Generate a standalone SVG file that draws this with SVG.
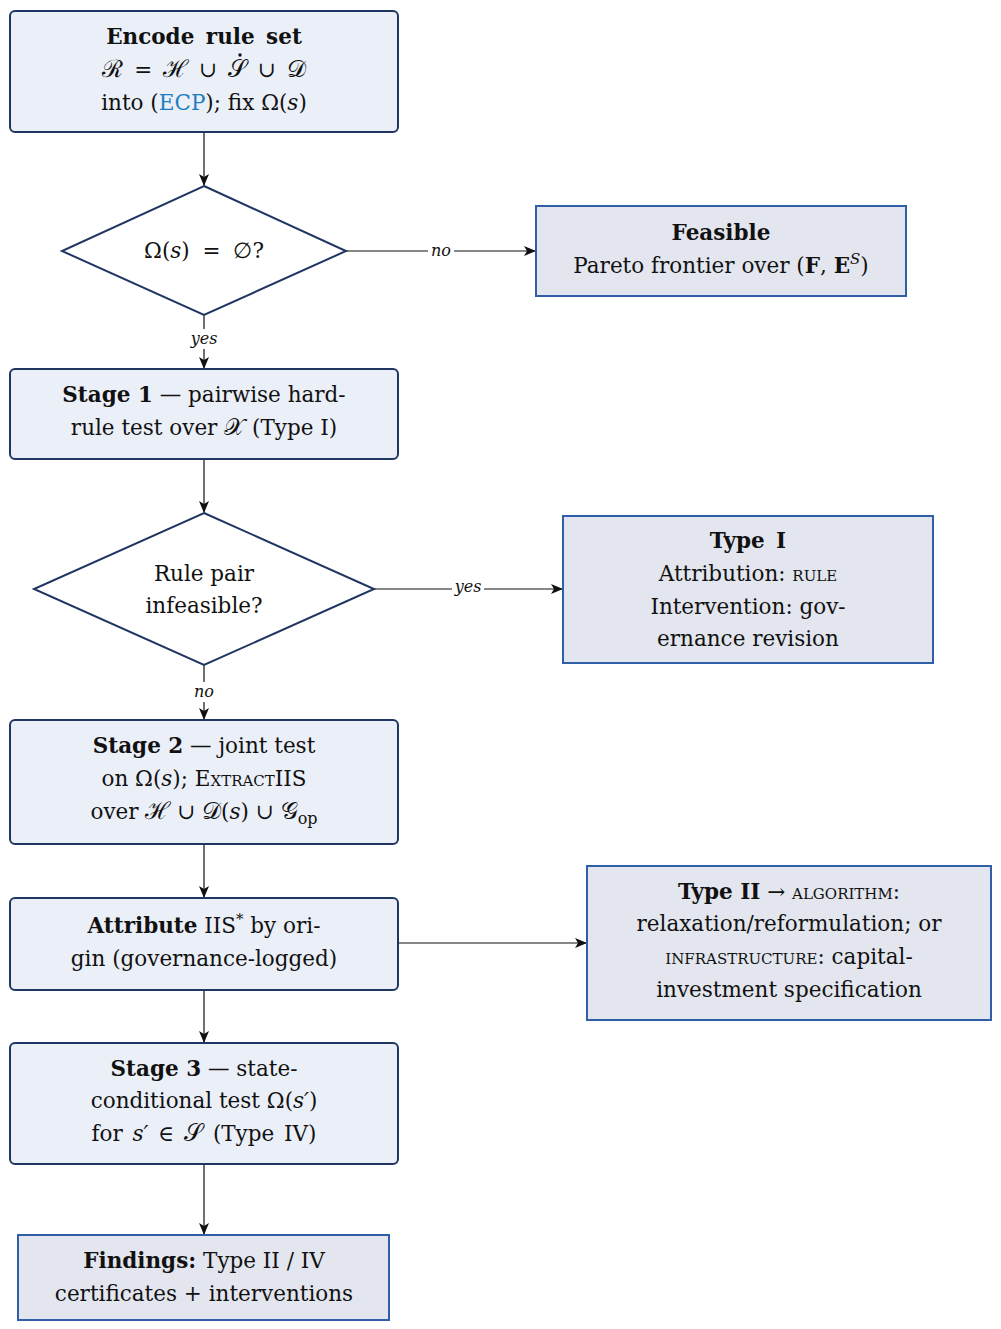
<svg xmlns="http://www.w3.org/2000/svg" width="1001" height="1329" viewBox="0 0 1001 1329">
<style>
.proc{fill:#EBEFF8;stroke:#1F3562;stroke-width:2}
.term{fill:#E3E6EE;stroke:#2F5FA7;stroke-width:2}
.dec{fill:#FFFFFF;stroke:#1F3562;stroke-width:2}
text{font-family:"DejaVu Serif","Liberation Serif",serif;font-size:21.5px;fill:#111;text-anchor:middle}
.b{font-weight:bold}
.i{font-style:italic}
.sc{font-variant:small-caps}
.m{font-size:24px}
.lbl{font-size:16px;font-style:italic}
.edge{stroke:#111;stroke-width:1.2;fill:none;marker-end:url(#ah)}
.lblbg{fill:#fff}
</style>
<defs>
<marker id="ah" viewBox="0 0 12 10" refX="11" refY="5" markerWidth="12" markerHeight="10" markerUnits="userSpaceOnUse" orient="auto">
<path d="M0,0 L12,5 L0,10 L3,5 Z" fill="#111"/>
</marker>
</defs>
<g id="connectors">
<path class="edge" d="M204,132 V185"/>
<path class="edge" d="M346,251 H535"/>
<rect class="lblbg" x="428" y="240" width="26" height="20"/>
<text class="lbl" x="441" y="256">no</text>
<path class="edge" d="M204,315 V368"/>
<rect class="lblbg" x="188" y="329" width="32" height="20"/>
<text class="lbl" x="204" y="344">yes</text>
<path class="edge" d="M204,459 V512"/>
<path class="edge" d="M374,589 H562"/>
<rect class="lblbg" x="452" y="577" width="32" height="20"/>
<text class="lbl" x="468" y="592">yes</text>
<path class="edge" d="M204,665 V719"/>
<rect class="lblbg" x="191" y="682" width="26" height="20"/>
<text class="lbl" x="204" y="697">no</text>
<path class="edge" d="M204,844 V897"/>
<path class="edge" d="M398,943 H586"/>
<path class="edge" d="M204,990 V1042"/>
<path class="edge" d="M204,1164 V1234"/>
</g>
<g id="encode">
<rect class="proc" x="10" y="11" width="388" height="121" rx="5"/>
<text x="204" y="44" class="b" word-spacing="4">Encode rule set</text>
<text x="204" y="77" word-spacing="4"><tspan class="m">ℛ</tspan> = <tspan class="m">ℋ</tspan> ∪ <tspan class="m">𝒮</tspan> ∪ <tspan class="m">𝒟</tspan></text>
<circle cx="240" cy="55" r="1.7" fill="#111"/>
<text x="204" y="110">into (<tspan fill="#1F7EC0">ECP</tspan>); fix Ω(<tspan class="i">s</tspan>)</text>
</g>
<g id="dec1">
<polygon class="dec" points="204,186 346,251 204,315 62,251"/>
<text x="204" y="258" word-spacing="6">Ω(<tspan class="i">s</tspan>) = ∅?</text>
</g>
<g id="feasible">
<rect class="term" x="536" y="206" width="370" height="90"/>
<text x="721" y="240" class="b">Feasible</text>
<text x="721" y="273">Pareto frontier over (<tspan class="b">F</tspan>, <tspan class="b">E</tspan><tspan class="i" font-size="15" dy="-9">S</tspan><tspan dy="9">)</tspan></text>
</g>
<g id="stage1">
<rect class="proc" x="10" y="369" width="388" height="90" rx="5"/>
<text x="204" y="402"><tspan class="b">Stage 1</tspan> — pairwise hard-</text>
<text x="204" y="435">rule test over <tspan class="m">𝒳</tspan> (Type I)</text>
</g>
<g id="dec2">
<polygon class="dec" points="204,513 374,589 204,665 34,589"/>
<text x="204" y="581">Rule pair</text>
<text x="204" y="613">infeasible?</text>
</g>
<g id="type1">
<rect class="term" x="563" y="516" width="370" height="147"/>
<text x="748" y="548" class="b" word-spacing="4">Type I</text>
<text x="748" y="581">Attribution: <tspan class="sc">rule</tspan></text>
<text x="748" y="614">Intervention: gov-</text>
<text x="748" y="646">ernance revision</text>
</g>
<g id="stage2">
<rect class="proc" x="10" y="720" width="388" height="124" rx="5"/>
<text x="204" y="753"><tspan class="b">Stage 2</tspan> — joint test</text>
<text x="204" y="786">on Ω(<tspan class="i">s</tspan>); <tspan class="sc">Extract</tspan>IIS</text>
<text x="204" y="819">over <tspan class="m">ℋ</tspan> ∪ <tspan class="m">𝒟</tspan>(<tspan class="i">s</tspan>) ∪ <tspan class="m">𝒢</tspan><tspan font-size="16" dy="5">op</tspan></text>
</g>
<g id="attribute">
<rect class="proc" x="10" y="898" width="388" height="92" rx="5"/>
<text x="204" y="933"><tspan class="b">Attribute</tspan> IIS<tspan font-size="15" dy="-9">*</tspan><tspan dy="9"> by ori-</tspan></text>
<text x="204" y="966">gin (governance-logged)</text>
</g>
<g id="type2">
<rect class="term" x="587" y="866" width="404" height="154"/>
<text x="789" y="899"><tspan class="b">Type II</tspan> → <tspan class="sc">algorithm</tspan>:</text>
<text x="789" y="931">relaxation/reformulation; or</text>
<text x="789" y="964"><tspan class="sc">infrastructure</tspan>: capital-</text>
<text x="789" y="997">investment specification</text>
</g>
<g id="stage3">
<rect class="proc" x="10" y="1043" width="388" height="121" rx="5"/>
<text x="204" y="1076"><tspan class="b">Stage 3</tspan> — state-</text>
<text x="204" y="1108">conditional test Ω(<tspan class="i">s′</tspan>)</text>
<text x="204" y="1141" word-spacing="3">for <tspan class="i">s′</tspan> ∈ <tspan class="m">𝒮</tspan> (Type IV)</text>
</g>
<g id="findings">
<rect class="term" x="18" y="1235" width="371" height="85"/>
<text x="204" y="1268"><tspan class="b">Findings:</tspan> Type II / IV</text>
<text x="204" y="1301">certificates + interventions</text>
</g>
</svg>
